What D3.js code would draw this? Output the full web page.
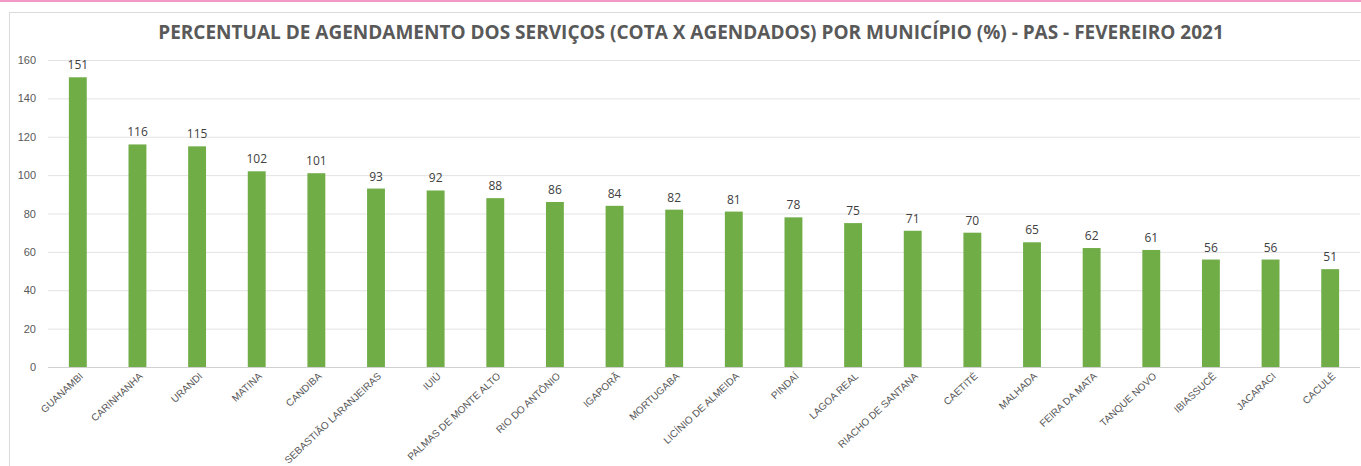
<!DOCTYPE html>
<html>
<head>
<meta charset="utf-8">
<script src="https://cdn.jsdelivr.net/npm/d3@7"></script>
<style>
  body { margin: 0; background: #fff; }
  svg { display: block; font-family: "Open Sans", "Noto Sans", sans-serif; }
</style>
</head>
<body>
<svg id="drawing_region"></svg>
<script>
var municipios = ['GUANAMBI', 'CARINHANHA', 'URANDI', 'MATINA', 'CANDIBA', 'SEBASTIÃO LARANJEIRAS', 'IUIÚ',
    'PALMAS DE MONTE ALTO', 'RIO DO ANTÔNIO', 'IGAPORÃ', 'MORTUGABA', 'LICÍNIO DE ALMEIDA', 'PINDAÍ',
    'LAGOA REAL', 'RIACHO DE SANTANA', 'CAETITÉ', 'MALHADA', 'FEIRA DA MATA', 'TANQUE NOVO',
    'IBIASSUCÊ', 'JACARACI', 'CACULÉ'];
var percentual = [151, 116, 115, 102, 101, 93, 92, 88, 86, 84, 82, 81, 78, 75, 71, 70, 65, 62, 61, 56, 56, 51];
var yTicks = [0, 20, 40, 60, 80, 100, 120, 140, 160];
var titulo = 'PERCENTUAL DE AGENDAMENTO DOS SERVIÇOS (COTA X AGENDADOS) POR MUNICÍPIO (%) - PAS - FEVEREIRO 2021';

var W = 1361, H = 466;
var margin = { top: 60, right: 1, bottom: 99, left: 48 };
var width = W - margin.left - margin.right;
var height = H - margin.top - margin.bottom;

var root = d3.select('#drawing_region')
    .attr('width', W)
    .attr('height', H);

// pink strip at top and chart frame
root.append('rect').attr('x', 0).attr('y', 0).attr('width', W).attr('height', 2).attr('fill', '#f29ac6');
root.append('rect').attr('x', 9.5).attr('y', 12.5).attr('width', W + 10).attr('height', H)
    .attr('fill', 'none').attr('stroke', '#d9d9d9');

var svg = root.append('g')
    .attr('transform', 'translate(' + margin.left + ',' + margin.top + ')');

var xScale = d3.scaleBand()
    .domain(municipios)
    .range([0, width])
    .paddingInner(0.7)
    .paddingOuter(0.35);

var yScale = d3.scaleLinear()
    .domain([0, 160])
    .range([height, 0]);

// gridlines
svg.append('g')
    .selectAll('line')
    .data(yTicks)
    .enter()
    .append('line')
    .attr('x1', 0)
    .attr('x2', width)
    .attr('y1', d => yScale(d) + 0.5)
    .attr('y2', d => yScale(d) + 0.5)
    .attr('stroke', d => d === 0 ? '#d0d0d0' : '#e3e3e3');

// y axis
var yAxis = svg.append('g')
    .call(d3.axisLeft(yScale).tickValues(yTicks).tickSize(0).tickPadding(12));
yAxis.select('.domain').remove();
yAxis.selectAll('text')
    .attr('fill', '#595959')
    .style('font-size', '11px');

// bars
svg.selectAll('rect.bar')
    .data(percentual)
    .enter()
    .append('rect')
    .attr('class', 'bar')
    .attr('x', (d, i) => xScale(municipios[i]))
    .attr('y', d => yScale(d))
    .attr('width', xScale.bandwidth())
    .attr('height', d => height - yScale(d))
    .attr('fill', '#70ad47');

// value labels
svg.selectAll('text.val')
    .data(percentual)
    .enter()
    .append('text')
    .attr('class', 'val')
    .attr('x', (d, i) => xScale(municipios[i]) + xScale.bandwidth() / 2)
    .attr('y', d => yScale(d) - 8)
    .attr('text-anchor', 'middle')
    .attr('fill', '#404040')
    .style('font-size', '12px')
    .text(d => d);

// x axis labels
var xAxis = svg.append('g')
    .attr('transform', 'translate(0,' + height + ')')
    .call(d3.axisBottom(xScale).tickSize(0).tickPadding(0));
xAxis.select('.domain').remove();
xAxis.selectAll('text')
    .attr('fill', '#595959')
    .style('font-size', '10px')
    .attr('text-anchor', 'end')
    .attr('dy', 0)
    .attr('transform', 'translate(6,10) rotate(-43)');

// title
root.append('text')
    .attr('x', 691)
    .attr('y', 39)
    .attr('text-anchor', 'middle')
    .attr('fill', '#595959')
    .style('font-size', '19px')
    .style('font-weight', 'bold')
    .text(titulo);
</script>
</body>
</html>
